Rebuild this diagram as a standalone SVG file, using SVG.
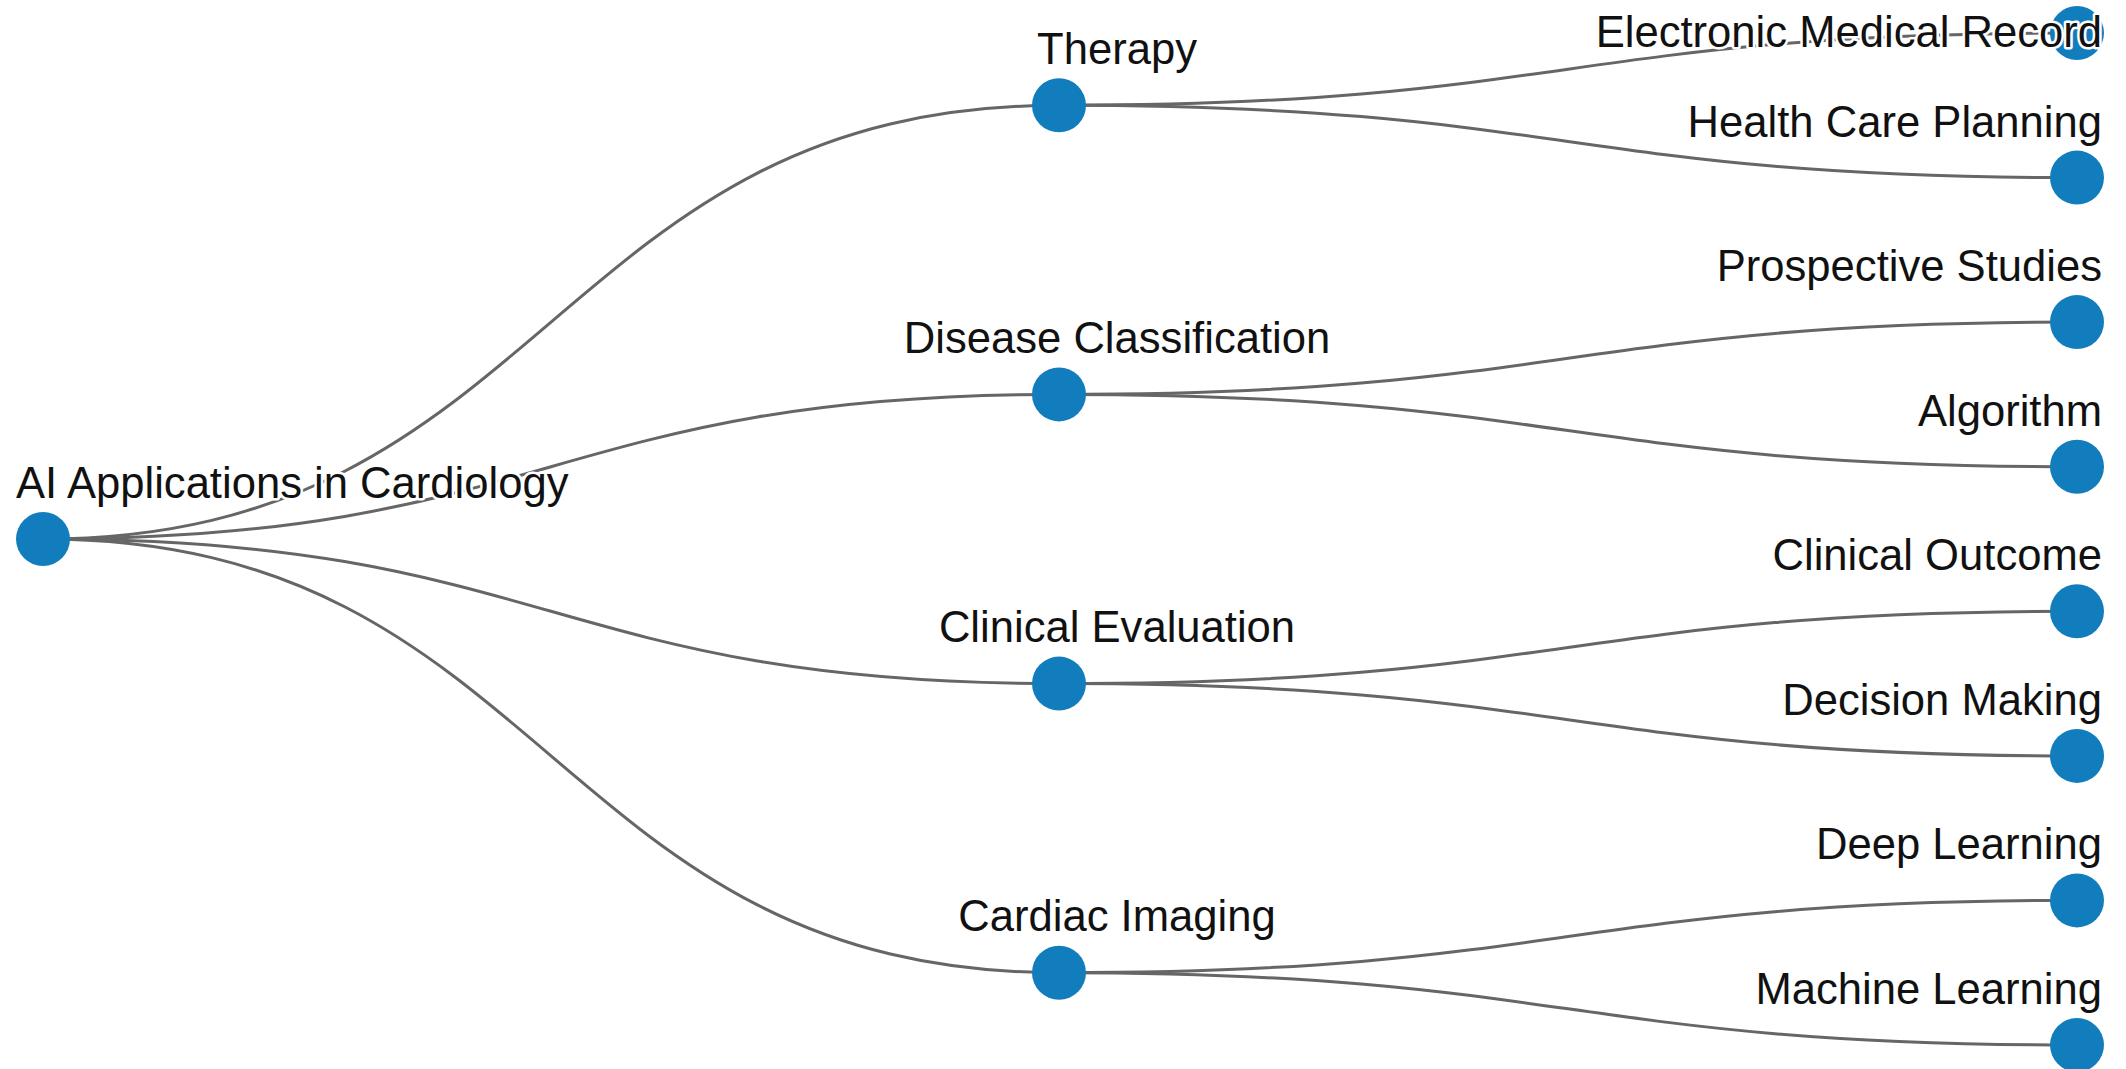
<svg xmlns="http://www.w3.org/2000/svg" width="2126" height="1069" viewBox="0 0 2126 1069">
<style>
.link{fill:none;stroke:#666;stroke-width:3}
.node circle{fill:#127dbd}
.node text{font-family:"Liberation Sans",Arial,sans-serif;font-size:43.6px;fill:#111;stroke:#fff;stroke-width:5;stroke-linejoin:round;paint-order:stroke}
.mid text{text-anchor:middle}
.leaf text{text-anchor:end}
</style>
<rect width="2126" height="1069" fill="#fff"/>
<g id="links">
<path class="link" d="M43,539C551,539 551,105.3 1059,105.3"/>
<path class="link" d="M43,539C551,539 551,394.4 1059,394.4"/>
<path class="link" d="M43,539C551,539 551,683.6 1059,683.6"/>
<path class="link" d="M43,539C551,539 551,972.7 1059,972.7"/>
<path class="link" d="M1059,105.3C1568,105.3 1568,33 2077,33"/>
<path class="link" d="M1059,105.3C1568,105.3 1568,177.6 2077,177.6"/>
<path class="link" d="M1059,394.4C1568,394.4 1568,322.1 2077,322.1"/>
<path class="link" d="M1059,394.4C1568,394.4 1568,466.7 2077,466.7"/>
<path class="link" d="M1059,683.6C1568,683.6 1568,611.3 2077,611.3"/>
<path class="link" d="M1059,683.6C1568,683.6 1568,755.9 2077,755.9"/>
<path class="link" d="M1059,972.7C1568,972.7 1568,900.4 2077,900.4"/>
<path class="link" d="M1059,972.7C1568,972.7 1568,1045 2077,1045"/>
</g>
<g id="node-root" class="node"><circle cx="43" cy="539" r="27"/><text x="16" y="498">AI Applications in Cardiology</text></g>
<g id="node-therapy" class="node mid"><circle cx="1059" cy="105.3" r="27"/><text x="1117" y="64">Therapy</text></g>
<g id="node-disease" class="node mid"><circle cx="1059" cy="394.4" r="27"/><text x="1117" y="353">Disease Classification</text></g>
<g id="node-clinical" class="node mid"><circle cx="1059" cy="683.6" r="27"/><text x="1117" y="642">Clinical Evaluation</text></g>
<g id="node-imaging" class="node mid"><circle cx="1059" cy="972.7" r="27"/><text x="1117" y="931">Cardiac Imaging</text></g>
<g id="node-emr" class="node leaf"><circle cx="2077" cy="33" r="27"/><text x="2102" y="47">Electronic Medical Record</text></g>
<g id="node-hcp" class="node leaf"><circle cx="2077" cy="177.6" r="27"/><text x="2102" y="137">Health Care Planning</text></g>
<g id="node-prospective" class="node leaf"><circle cx="2077" cy="322.1" r="27"/><text x="2102" y="281">Prospective Studies</text></g>
<g id="node-algorithm" class="node leaf"><circle cx="2077" cy="466.7" r="27"/><text x="2102" y="426">Algorithm</text></g>
<g id="node-outcome" class="node leaf"><circle cx="2077" cy="611.3" r="27"/><text x="2102" y="570">Clinical Outcome</text></g>
<g id="node-decision" class="node leaf"><circle cx="2077" cy="755.9" r="27"/><text x="2102" y="715">Decision Making</text></g>
<g id="node-deep" class="node leaf"><circle cx="2077" cy="900.4" r="27"/><text x="2102" y="859">Deep Learning</text></g>
<g id="node-ml" class="node leaf"><circle cx="2077" cy="1045" r="27"/><text x="2102" y="1004">Machine Learning</text></g>
</svg>
